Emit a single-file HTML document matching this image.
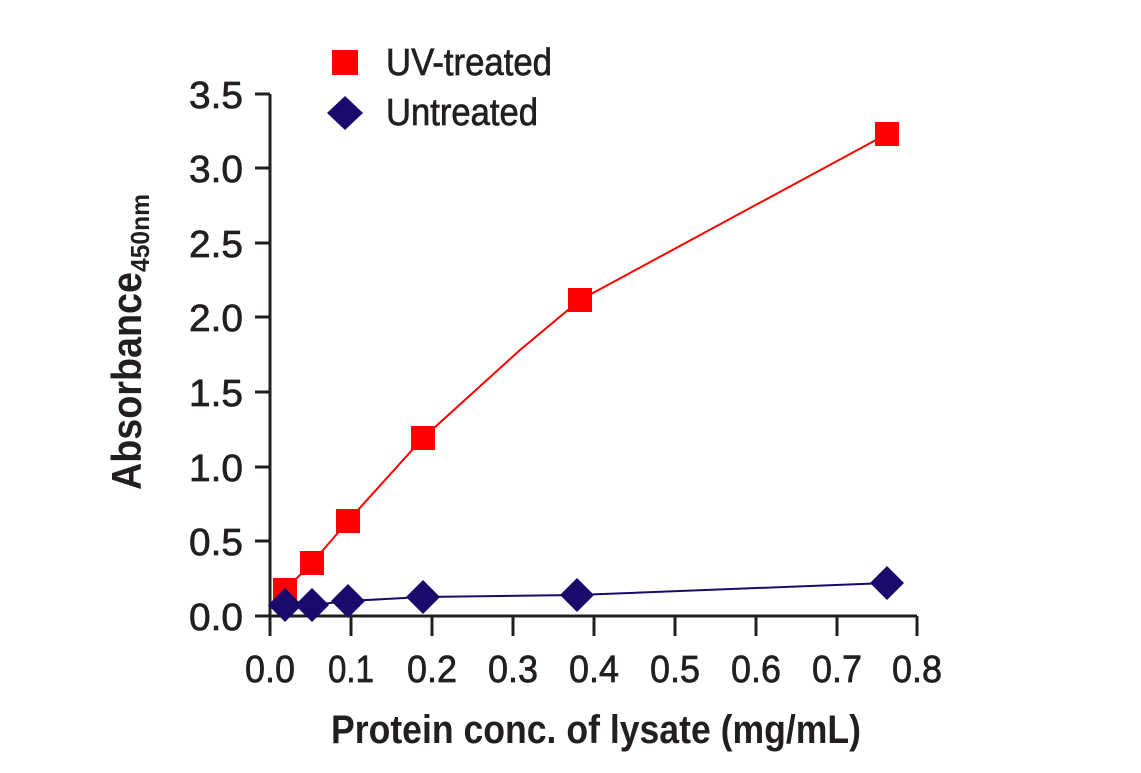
<!DOCTYPE html>
<html><head><style>body{margin:0;background:#fff}</style></head><body>
<svg width="1141" height="768" xmlns="http://www.w3.org/2000/svg" font-family="'Liberation Sans',sans-serif" fill="#231f20">
<g stroke="#231f20" stroke-width="3" fill="none">
<path d="M270,94 V616 H917"/>
<path d="M255,94H270M255,168H270M255,243H270M255,317H270M255,392H270M255,467H270M255,541H270M255,616H270"/>
<path d="M270,616V636M351,616V636M432,616V636M513,616V636M594,616V636M675,616V636M756,616V636M837,616V636M917,616V636"/>
</g>
<g font-size="38" text-anchor="end" stroke="#231f20" stroke-width="0.7">
<text x="243" y="108" textLength="54" lengthAdjust="spacingAndGlyphs">3.5</text>
<text x="243" y="182" textLength="54" lengthAdjust="spacingAndGlyphs">3.0</text>
<text x="243" y="257" textLength="54" lengthAdjust="spacingAndGlyphs">2.5</text>
<text x="243" y="331" textLength="54" lengthAdjust="spacingAndGlyphs">2.0</text>
<text x="243" y="406" textLength="54" lengthAdjust="spacingAndGlyphs">1.5</text>
<text x="243" y="481" textLength="54" lengthAdjust="spacingAndGlyphs">1.0</text>
<text x="243" y="555" textLength="54" lengthAdjust="spacingAndGlyphs">0.5</text>
<text x="243" y="630" textLength="54" lengthAdjust="spacingAndGlyphs">0.0</text>
</g>
<g font-size="38" text-anchor="middle" stroke="#231f20" stroke-width="0.7">
<text x="270" y="682" textLength="50" lengthAdjust="spacingAndGlyphs">0.0</text>
<text x="351" y="682" textLength="46" lengthAdjust="spacingAndGlyphs">0.1</text>
<text x="432" y="682" textLength="50" lengthAdjust="spacingAndGlyphs">0.2</text>
<text x="513" y="682" textLength="50" lengthAdjust="spacingAndGlyphs">0.3</text>
<text x="594" y="682" textLength="50" lengthAdjust="spacingAndGlyphs">0.4</text>
<text x="675" y="682" textLength="50" lengthAdjust="spacingAndGlyphs">0.5</text>
<text x="756" y="682" textLength="50" lengthAdjust="spacingAndGlyphs">0.6</text>
<text x="837" y="682" textLength="50" lengthAdjust="spacingAndGlyphs">0.7</text>
<text x="917" y="682" textLength="50" lengthAdjust="spacingAndGlyphs">0.8</text>
</g>
<text x="331" y="743" font-size="40" font-weight="bold" textLength="530" lengthAdjust="spacingAndGlyphs">Protein conc. of lysate (mg/mL)</text>
<text transform="translate(141,490) rotate(-90)" font-size="42" font-weight="bold"><tspan textLength="218" lengthAdjust="spacingAndGlyphs">Absorbance</tspan><tspan font-size="26" dy="8" textLength="78" lengthAdjust="spacingAndGlyphs">450nm</tspan></text>
<polyline points="285,590 312,563 348,521 423,438 520,350 580,300 887,134" fill="none" stroke="#f00" stroke-width="2"/>
<polyline points="285,605 312,605 348,601 423,597 577,595 887,583" fill="none" stroke="#1a0a6b" stroke-width="2"/>
<g fill="#f00">
<rect x="273" y="578" width="24" height="24"/><rect x="300" y="551" width="24" height="24"/><rect x="336" y="509" width="24" height="24"/><rect x="411" y="426" width="24" height="24"/><rect x="568" y="288" width="24" height="24"/><rect x="875" y="122" width="24" height="24"/>
<rect x="332" y="50" width="26" height="25"/>
</g>
<g fill="#1a0a6b">
<path d="M285,588l17,17l-17,17l-17,-17z"/><path d="M312,588l17,17l-17,17l-17,-17z"/><path d="M348,584l17,17l-17,17l-17,-17z"/><path d="M423,580l17,17l-17,17l-17,-17z"/><path d="M577,578l17,17l-17,17l-17,-17z"/><path d="M887,566l17,17l-17,17l-17,-17z"/>
<path d="M345,96l18,17l-18,17l-18,-17z"/>
</g>
<g stroke="#231f20" stroke-width="0.7">
<text x="386" y="75" font-size="38" textLength="166" lengthAdjust="spacingAndGlyphs">UV-treated</text>
<text x="386" y="125" font-size="38" textLength="152" lengthAdjust="spacingAndGlyphs">Untreated</text>
</g>
</svg>
</body></html>
